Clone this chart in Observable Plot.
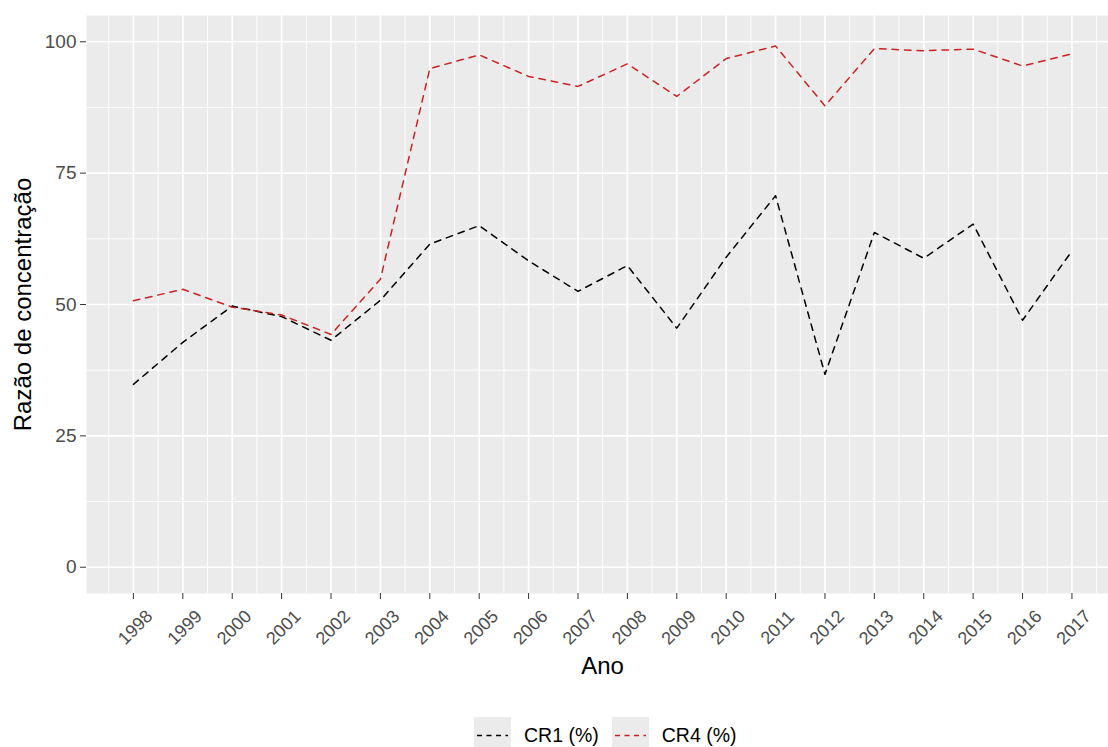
<!DOCTYPE html>
<html>
<head>
<meta charset="utf-8">
<script src="https://cdn.jsdelivr.net/npm/d3@7"></script>
<script src="https://cdn.jsdelivr.net/npm/@observablehq/plot@0.6"></script>
<style>
  html, body { margin: 0; padding: 0; background: #fff; }
  body { width: 1108px; height: 747px; position: relative; overflow: hidden; font-family: "Liberation Sans", Arial, sans-serif; }
  #chart svg { display: block; }
  #legend { position: absolute; top: 717px; left: 474px; display: flex; align-items: center; font-size: 19.5px; color: #000; white-space: nowrap; }
  .key { width: 37px; height: 37px; background: #ebebeb; display: inline-block; margin-right: 13px; }
  .key svg { display: block; }
  .item { display: flex; align-items: center; margin-right: 13px; }
</style>
</head>
<body>
<div id="chart"></div>
<div id="legend"></div>
<script>
const years = [1998, 1999, 2000, 2001, 2002, 2003, 2004, 2005, 2006, 2007, 2008, 2009, 2010, 2011, 2012, 2013, 2014, 2015, 2016, 2017];
const cr1 = [34.8, 42.8, 49.7, 47.7, 43.2, 50.8, 61.5, 65.0, 58.3, 52.5, 57.4, 45.5, 59.0, 70.7, 36.7, 63.7, 58.8, 65.3, 47.0, 60.2];
const cr4 = [50.7, 52.9, 49.5, 48.0, 44.3, 54.8, 94.9, 97.5, 93.4, 91.5, 95.8, 89.6, 96.8, 99.2, 87.8, 98.7, 98.3, 98.6, 95.4, 97.7];
const seriesNames = ["CR1 (%)", "CR4 (%)"];
const seriesColors = ["#000000", "#cc2222"];
const yTicks = [0, 25, 50, 75, 100];
const yMinor = [12.5, 37.5, 62.5, 87.5];
const xMinor = [1997.5, 1998.5, 1999.5, 2000.5, 2001.5, 2002.5, 2003.5, 2004.5, 2005.5, 2006.5, 2007.5, 2008.5, 2009.5, 2010.5, 2011.5, 2012.5, 2013.5, 2014.5, 2015.5, 2016.5, 2017.5];
const xTitle = "Ano";
const yTitle = "Razão de concentração";

const data = years.flatMap((ano, i) => [
  {ano, v: cr1[i], s: seriesNames[0]},
  {ano, v: cr4[i], s: seriesNames[1]}
]);

const chart = Plot.plot({
  width: 1108,
  height: 700,
  marginLeft: 86,
  marginRight: 0,
  marginTop: 15,
  marginBottom: 107,
  style: {fontFamily: "'Liberation Sans', Arial, sans-serif", background: "#fff"},
  x: {domain: [1997.05, 2017.74], label: null},
  y: {domain: [-5, 105], label: null},
  color: {domain: seriesNames, range: seriesColors},
  marks: [
    Plot.frame({fill: "#ebebeb", stroke: null}),
    Plot.gridX(xMinor, {stroke: "#ffffff", strokeOpacity: 1, strokeWidth: 0.9}),
    Plot.gridY(yMinor, {stroke: "#ffffff", strokeOpacity: 1, strokeWidth: 0.9}),
    Plot.gridX(years, {stroke: "#ffffff", strokeOpacity: 1, strokeWidth: 1.7}),
    Plot.gridY(yTicks, {stroke: "#ffffff", strokeOpacity: 1, strokeWidth: 1.7}),
    Plot.line(data, {x: "ano", y: "v", z: "s", stroke: "s", strokeWidth: 1.5, strokeDasharray: "6.5,6"}),
    Plot.axisX(years, {tickSize: 6, stroke: "#333333", tickFormat: () => "", label: null}),
    Plot.text(years, {x: d => d, text: d => String(d), frameAnchor: "bottom", dx: 2, dy: 34, rotate: -45, textAnchor: "middle", lineAnchor: "middle", fontSize: 18, fill: "#4d4d4d"}),
    Plot.axisY(yTicks, {tickSize: 6, tickPadding: 4, fontSize: 19, fill: "#4d4d4d", stroke: "#333333", label: null}),
    Plot.text([xTitle], {frameAnchor: "bottom", lineAnchor: "middle", dx: 5, dy: 73, fontSize: 24, fill: "#000"}),
    Plot.text([yTitle], {frameAnchor: "left", textAnchor: "middle", lineAnchor: "middle", dx: -63, rotate: -90, fontSize: 24, fill: "#000"})
  ]
});
document.getElementById("chart").appendChild(chart);

const legend = document.getElementById("legend");
seriesNames.forEach((name, i) => {
  const item = document.createElement("div");
  item.className = "item";
  item.innerHTML = `<span class="key"><svg width="37" height="37"><line x1="3" x2="34" y1="18.5" y2="18.5" stroke="${seriesColors[i]}" stroke-width="1.5" stroke-dasharray="5,4.5"/></svg></span><span>${name}</span>`;
  legend.appendChild(item);
});
</script>
</body>
</html>
